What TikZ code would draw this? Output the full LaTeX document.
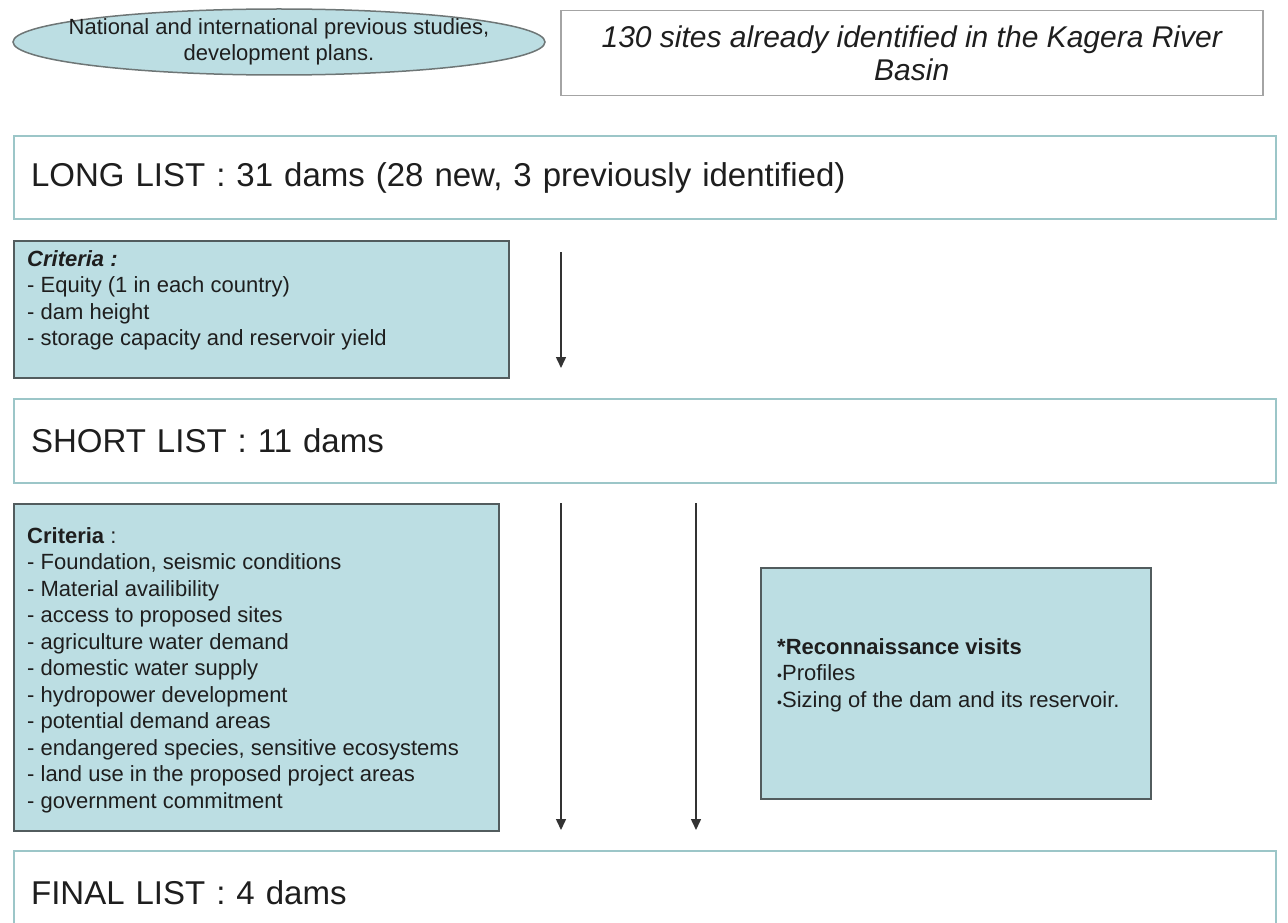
\documentclass[tikz,border=0pt]{standalone}
\usepackage{fontspec}
\setmainfont{Liberation Sans}
\usetikzlibrary{shapes.geometric,arrows.meta}
\definecolor{boxfill}{HTML}{BCDEE3}
\definecolor{listline}{HTML}{9CC6C8}
\definecolor{critline}{HTML}{525C5E}
\definecolor{ellline}{HTML}{6E7676}
\definecolor{siteline}{HTML}{A4A4A4}
\definecolor{arrowgray}{HTML}{333333}
\definecolor{txt}{HTML}{1E1E1E}
\begin{document}
\begin{tikzpicture}[x=1pt,y=-1pt,
  listbox/.style={draw=listline, line width=2.2pt, fill=white, rectangle, anchor=north west,
    inner xsep=17pt, inner ysep=0pt, minimum width=1262pt, text width=1228pt, align=left,
    text=txt, font=\fontsize{33}{38}\selectfont},
  critbox/.style={draw=critline, line width=1.5pt, fill=boxfill, rectangle, anchor=north west, inner sep=0pt},
  crittext/.style={anchor=north west, inner sep=0pt, align=left, text=txt,
    font=\fontsize{22}{26.5}\selectfont},
  arrowline/.style={draw=arrowgray, line width=1.5pt, -{Triangle[length=11pt,width=10pt]}}
]
\useasboundingbox (0,0) rectangle (1288,923);
\clip (0,0) rectangle (1288,923);

% top row
\node[ellipse, draw=ellline, line width=1.5pt, fill=boxfill, minimum width=532pt,
  minimum height=66pt, inner sep=0pt] (src) at (279,42) {};
\node[align=center, inner sep=0pt, text=txt, font=\fontsize{22}{26}\selectfont]
  (srct) at (src.center) {National and international previous studies,\\development plans.};
\node[draw=siteline, line width=1.5pt, rectangle, anchor=north west, inner sep=0pt,
  minimum width=702pt, minimum height=85pt, align=center, text=txt,
  font=\fontsize{30}{33}\selectfont\itshape] (sites) at (560,10)
  {130 sites already identified in the Kagera River\\Basin};

% lists
\node[listbox, minimum height=83pt] (long) at (13,135)
  {LONG LIST : 31 dams (28 new, 3 previously identified)};
\node[listbox, minimum height=84pt] (short) at (13,398) {SHORT LIST : 11 dams};
\node[listbox, minimum height=84pt] (final) at (13,850) {FINAL LIST : 4 dams};

% criteria 1
\node[critbox, minimum width=495pt, minimum height=137pt] (crit1) at (13,240) {};
\node[crittext] (crit1t) at (27,250)
  {\textbf{\textit{Criteria :}}\\- Equity (1 in each country)\\- dam height\\- storage capacity and reservoir yield};

% criteria 2
\node[critbox, minimum width=485pt, minimum height=327pt] (crit2) at (13,503) {};
\node[crittext] (crit2t) at (27,527)
  {\textbf{Criteria} :\\- Foundation, seismic conditions\\- Material availibility\\- access to proposed sites\\- agriculture water demand\\- domestic water supply\\- hydropower development\\- potential demand areas\\- endangered species, sensitive ecosystems\\- land use in the proposed project areas\\- government commitment};

% reconnaissance
\node[critbox, minimum width=390pt, minimum height=231pt] (recon) at (760,567) {};
\node[crittext] (recont) at (777,638)
  {\textbf{*Reconnaissance visits}\\{\fontsize{14}{14}\selectfont •}Profiles\\{\fontsize{14}{14}\selectfont •}Sizing of the dam and its reservoir.};

% arrows
\coordinate (a1s) at (561,252); \coordinate (a1e) at (561,368);
\coordinate (a2s) at (561,503); \coordinate (a2e) at (561,830);
\coordinate (a3s) at (696,503); \coordinate (a3e) at (696,830);
\draw[arrowline] (a1s) -- (a1e);
\draw[arrowline] (a2s) -- (a2e);
\draw[arrowline] (a3s) -- (a3e);
\end{tikzpicture}
\end{document}
